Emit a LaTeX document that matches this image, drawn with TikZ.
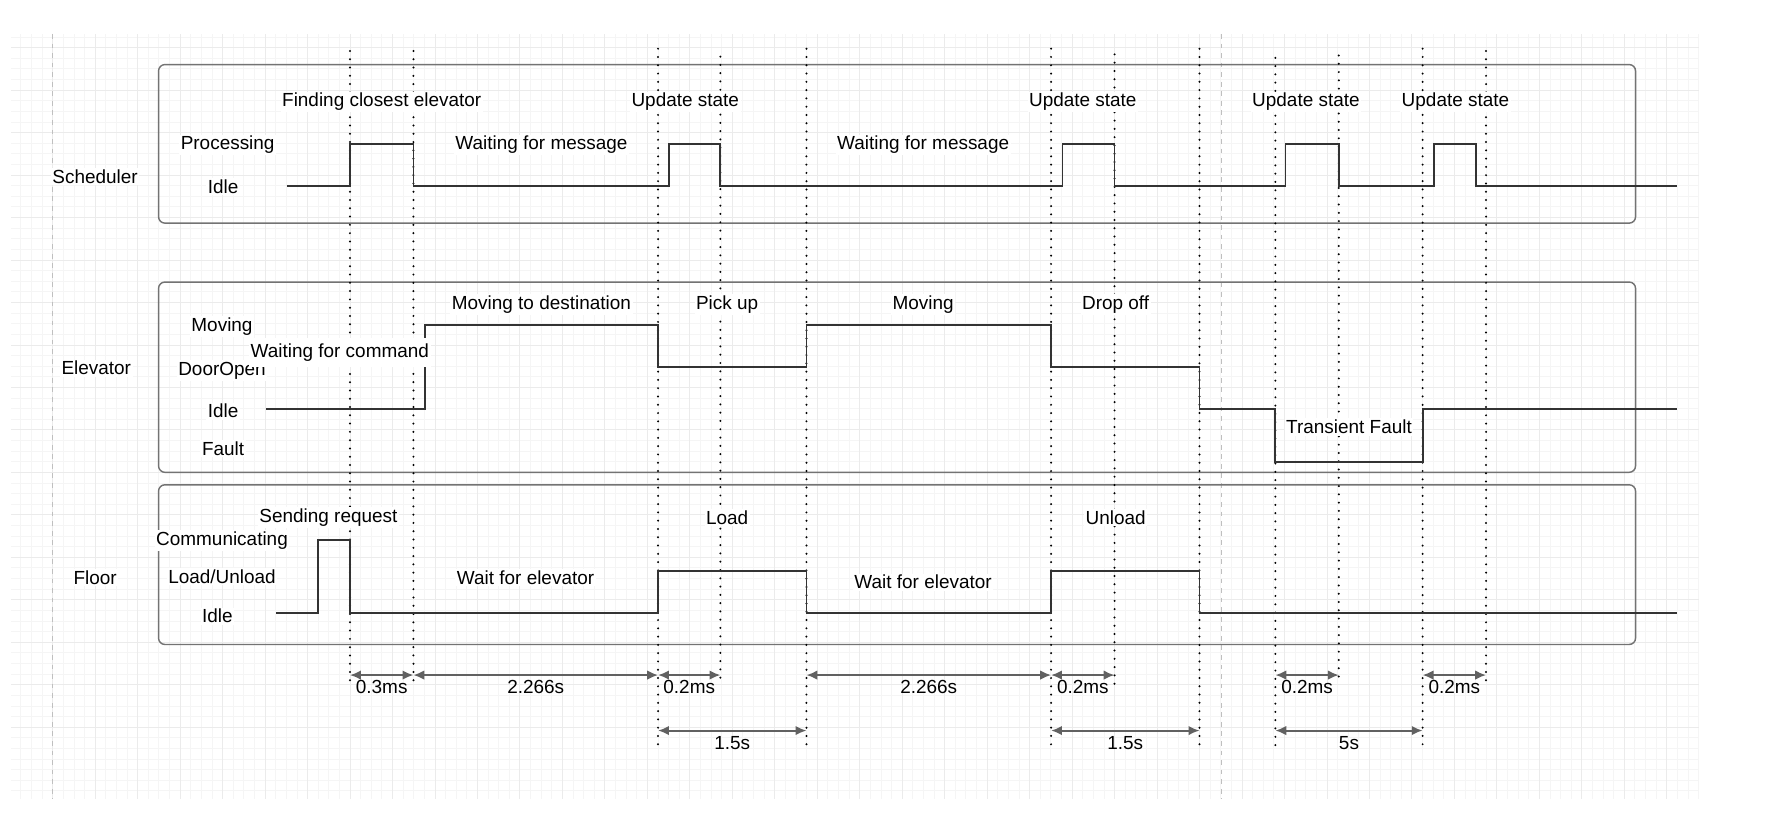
\documentclass[tikz,border=0pt]{standalone}
\usepackage{fontspec}
\setmainfont{Liberation Sans}
\usetikzlibrary{arrows.meta}

\tikzset{
  lane/.style={draw=black!55, line width=0.9pt, rounded corners=4pt},
  wave/.style={draw=black!80, line width=1.15pt},
  guide/.style={black, line width=1.4pt, line cap=round, dash pattern=on 0pt off 5.2pt},
  lbl/.style={fill=white, inner sep=1pt},
  dimline/.style={<->, >={Latex[length=2.4mm,width=2.1mm]}, draw=black!62, line width=1.2pt},
  dimtext/.style={midway, below, inner sep=2.5pt},
}

\begin{document}
\begin{tikzpicture}[x=0.25mm, y=-0.25mm, font=\fontsize{11.9}{14}\selectfont]
    \useasboundingbox (0,0) rectangle (1568,740);
    % canvas grid
    \foreach \i in {1,...,159}
        \draw[black!4, line width=0.5pt] ({9+\i*9.375},30) -- ({9+\i*9.375},705);
    \foreach \j in {3,...,74}
        \draw[black!4, line width=0.5pt] (10,{4.5+\j*9.375}) -- (1500,{4.5+\j*9.375});
    \foreach \i in {1,...,39}
        \draw[black!8, line width=0.5pt] ({9+\i*37.5},30) -- ({9+\i*37.5},705);
    \foreach \j in {1,...,17}
        \draw[black!8, line width=0.5pt] (10,{4.5+\j*37.5}) -- (1500,{4.5+\j*37.5});
    \draw[black!25, dashed, line width=0.5pt] (46.5,30) -- (46.5,705);
    \draw[black!25, dashed, line width=0.5pt] (1078,30) -- (1078,705);

    % lanes
    \draw[lane] (140,57) rectangle (1444,197);
    \draw[lane] (140,249) rectangle (1444,417);
    \draw[lane] (140,428) rectangle (1444,569);

    % time marks
    \draw[guide] (309,45) -- (309,604);
    \draw[guide] (365,45) -- (365,604);
    \draw[guide] (581,43) -- (581,662);
    \draw[guide] (636,50) -- (636,604);
    \draw[guide] (712,43) -- (712,662);
    \draw[guide] (928,43) -- (928,662);
    \draw[guide] (984,48) -- (984,604);
    \draw[guide] (1059,43) -- (1059,662);
    \draw[guide] (1126,51) -- (1126,662);
    \draw[guide] (1182,49) -- (1182,604);
    \draw[guide] (1256,43) -- (1256,662);
    \draw[guide] (1312,45) -- (1312,604);

    % signals
    \draw[wave] (253,164) -- (309,164) -- (309,127) -- (365,127) -- (365,164)
        -- (591,164) -- (591,127) -- (636,127) -- (636,164)
        -- (938,164) -- (938,127) -- (984,127) -- (984,164)
        -- (1135,164) -- (1135,127) -- (1182,127) -- (1182,164)
        -- (1266,164) -- (1266,127) -- (1303,127) -- (1303,164) -- (1481,164);
    \draw[wave] (235,361) -- (375,361) -- (375,287) -- (581,287) -- (581,324)
        -- (712,324) -- (712,287) -- (928,287) -- (928,324) -- (1059,324)
        -- (1059,361) -- (1126,361) -- (1126,408) -- (1256,408) -- (1256,361) -- (1481,361);
    \draw[wave] (244,541) -- (281,541) -- (281,477) -- (309,477) -- (309,541)
        -- (581,541) -- (581,504) -- (712,504) -- (712,541)
        -- (928,541) -- (928,504) -- (1059,504) -- (1059,541) -- (1481,541);

    % scheduler
    \node[lbl] (sched) at (84,156) {Scheduler};
    \node[lbl] (schedproc) at (201,128) {Processing};
    \node[lbl] (schedidle) at (197,165) {Idle};
    \node[lbl] (find) at (337,90) {Finding closest elevator};
    \node[lbl] (waitmsgA) at (478,128) {Waiting for message};
    \node[lbl] (updA) at (605,90) {Update state};
    \node[lbl] (waitmsgB) at (815,128) {Waiting for message};
    \node[lbl] (updB) at (956,90) {Update state};
    \node[lbl] (updC) at (1153,90) {Update state};
    \node[lbl] (updD) at (1285,90) {Update state};

    % elevator
    \node[lbl] (elev) at (85,325) {Elevator};
    \node[lbl] (elevmov) at (196,288) {Moving};
    \node[lbl] (elevdoor) at (196,327) {DoorOpen};
    \node[lbl] (elevidle) at (197,363) {Idle};
    \node[lbl] (elevfault) at (197,396) {Fault};
    \node[lbl, inner ysep=3.5pt] (waitcmd) at (300,311) {Waiting for command};
    \node[lbl] (movdest) at (478,269) {Moving to destination};
    \node[lbl] (pickup) at (642,269) {Pick up};
    \node[lbl] (moving) at (815,269) {Moving};
    \node[lbl] (dropoff) at (985,269) {Drop off};
    \node[lbl] (tfault) at (1191,377) {Transient Fault};

    % floor
    \node[lbl] (floor) at (84,510) {Floor};
    \node[lbl] (floorcomm) at (196,477) {Communicating};
    \node[lbl] (floorload) at (196,509) {Load/Unload};
    \node[lbl] (flooridle) at (192,544) {Idle};
    \node[lbl] (sendreq) at (290,457) {Sending request};
    \node[lbl] (waitelevA) at (464,510) {Wait for elevator};
    \node[lbl] (load) at (642,457) {Load};
    \node[lbl] (waitelevB) at (815,514) {Wait for elevator};
    \node[lbl] (unload) at (985,457) {Unload};

    % durations
    \coordinate (a1) at (309,596);
    \coordinate (a2) at (365,596);
    \coordinate (a3) at (581,596);
    \coordinate (a4) at (636,596);
    \coordinate (a5) at (712,596);
    \coordinate (a6) at (928,596);
    \coordinate (a7) at (984,596);
    \coordinate (a8) at (1126,596);
    \coordinate (a9) at (1182,596);
    \coordinate (a10) at (1256,596);
    \coordinate (a11) at (1312,596);
    \coordinate (b1) at (581,645);
    \coordinate (b2) at (712,645);
    \coordinate (b3) at (928,645);
    \coordinate (b4) at (1059,645);
    \coordinate (b5) at (1126,645);
    \coordinate (b6) at (1256,645);
    \draw[dimline] (a1) -- (a2) node[dimtext] (dA) {0.3ms};
    \draw[dimline] (a2) -- (a3) node[dimtext] (dB) {2.266s};
    \draw[dimline] (a3) -- (a4) node[dimtext] (dC) {0.2ms};
    \draw[dimline] (a5) -- (a6) node[dimtext] (dD) {2.266s};
    \draw[dimline] (a6) -- (a7) node[dimtext] (dE) {0.2ms};
    \draw[dimline] (a8) -- (a9) node[dimtext] (dF) {0.2ms};
    \draw[dimline] (a10) -- (a11) node[dimtext] (dG) {0.2ms};
    \draw[dimline] (b1) -- (b2) node[dimtext, inner sep=3pt] (dH) {1.5s};
    \draw[dimline] (b3) -- (b4) node[dimtext, inner sep=3pt] (dI) {1.5s};
    \draw[dimline] (b5) -- (b6) node[dimtext, inner sep=3pt] (dJ) {5s};
\end{tikzpicture}
\end{document}
